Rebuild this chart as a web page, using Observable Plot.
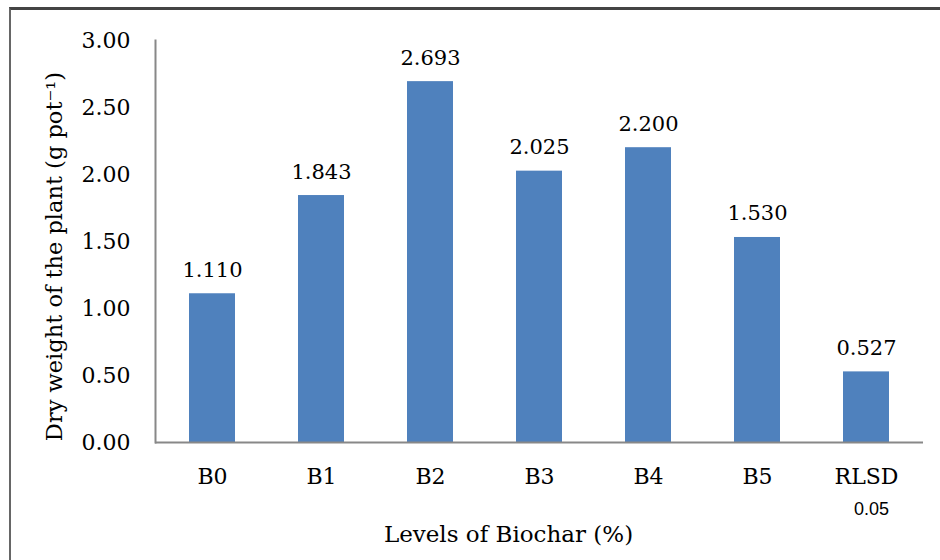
<!DOCTYPE html>
<html>
<head>
<meta charset="utf-8">
<script src="https://cdn.jsdelivr.net/npm/d3@7"></script>
<script src="https://cdn.jsdelivr.net/npm/@observablehq/plot@0.6"></script>
<style>
  html, body { margin: 0; padding: 0; background: #fff; }
  #wrap { position: relative; width: 940px; height: 560px; overflow: hidden; }
  #border { position: absolute; left: 9px; top: 7px; width: 1000px; height: 1000px;
            border-top: 3px solid #444; border-left: 2px solid #666; pointer-events: none; }
</style>
</head>
<body>
<div id="wrap"><div id="border"></div></div>
<script>
const categories = ["B0", "B1", "B2", "B3", "B4", "B5", "RLSD"];
const values = [1.110, 1.843, 2.693, 2.025, 2.200, 1.530, 0.527];
const valueLabels = ["1.110", "1.843", "2.693", "2.025", "2.200", "1.530", "0.527"];
const subLabels = ["", "", "", "", "", "", "0.05"];
const yTicks = [0, 0.5, 1, 1.5, 2, 2.5, 3];

const data = categories.map((c, i) => ({cat: c, v: values[i], label: valueLabels[i], sub: subLabels[i]}));
const serif = "'DejaVu Serif', serif";

const chart = Plot.plot({
  width: 940,
  height: 560,
  marginLeft: 155,
  marginRight: 17,
  marginTop: 40,
  marginBottom: 118,
  style: {fontFamily: serif, fontSize: "21px", color: "#000", background: "transparent"},
  x: {domain: categories, paddingInner: 0.58, paddingOuter: 0.29, label: null},
  y: {domain: [0, 3], label: null},
  marks: [
    Plot.barY(data, {x: "cat", y: "v", fill: "#4F81BD"}),
    Plot.text(data, {x: "cat", y: "v", text: "label", dy: -17, lineAnchor: "bottom",
      fontFamily: serif, fontSize: 21, fill: "#000"}),
    Plot.axisY({ticks: yTicks, tickSize: 0, tickPadding: 25, tickFormat: d => d.toFixed(2),
      fontFamily: serif, fontSize: 22, fill: "#000", label: null}),
    Plot.axisX({tickSize: 0, tickPadding: 26, fontFamily: serif, fontSize: 22, fill: "#000", label: null}),
    Plot.text(data.filter(d => d.sub), {x: "cat", text: "sub", frameAnchor: "bottom", dy: 72,
      dx: 5, fontFamily: "'Liberation Sans', sans-serif", fontSize: 18, fill: "#000"}),
    Plot.frame({anchor: "left", stroke: "#888", strokeWidth: 2}),
    Plot.ruleY([0], {stroke: "#888", strokeWidth: 2}),
    Plot.text(["Levels of Biochar (%)"], {frameAnchor: "bottom", dy: 99, dx: -31, fontFamily: serif,
      fontSize: 23, fill: "#000"}),
    Plot.text(["Dry weight of the plant (g pot⁻¹)"], {frameAnchor: "left", textAnchor: "middle",
      lineAnchor: "middle", dx: -101, dy: 15, rotate: -90,
      fontFamily: serif, fontSize: 22.5, fill: "#000"})
  ]
});
document.getElementById("wrap").prepend(chart);
</script>
</body>
</html>
